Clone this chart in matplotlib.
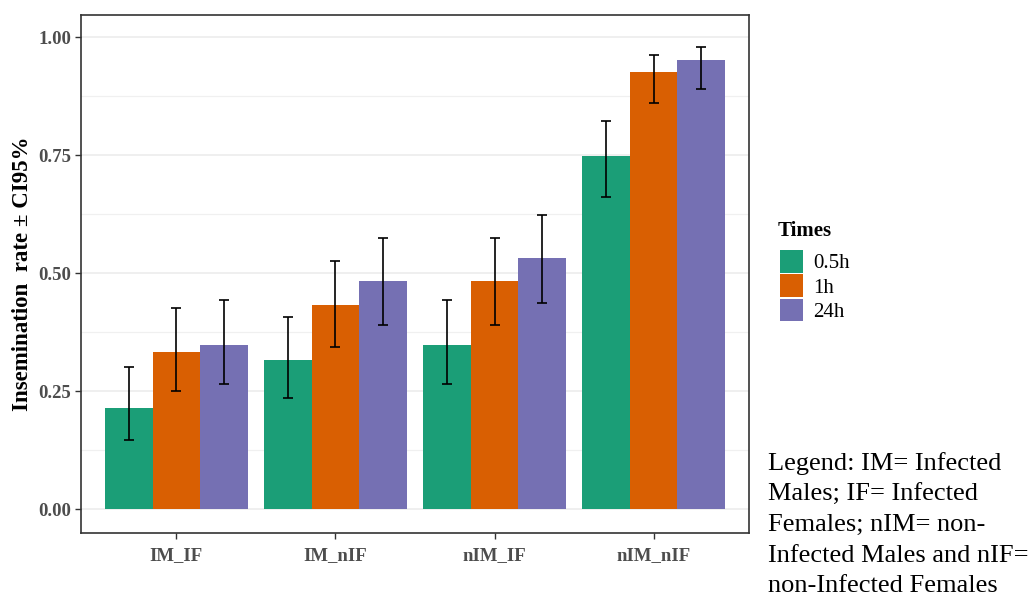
import numpy as np
import matplotlib
matplotlib.use('Agg')
from matplotlib import pyplot as plt
from matplotlib.patches import Patch

plt.rcParams['font.family'] = ['Liberation Serif', 'DejaVu Serif']

########
# DATA #
########

groups = ['IM_IF', 'IM_nIF', 'nIM_IF', 'nIM_nIF']
times = ['0.5h', '1h', '24h']

# insemination rate per group, one list per time
rate_05h = [0.214, 0.316, 0.349, 0.749]
rate_1h = [0.333, 0.432, 0.483, 0.927]
rate_24h = [0.349, 0.483, 0.532, 0.952]

# 95% CI bounds
lo_05h = [0.148, 0.236, 0.266, 0.661]
hi_05h = [0.302, 0.407, 0.443, 0.822]
lo_1h = [0.250, 0.344, 0.391, 0.861]
hi_1h = [0.426, 0.526, 0.575, 0.963]
lo_24h = [0.266, 0.391, 0.438, 0.891]
hi_24h = [0.443, 0.575, 0.623, 0.980]

colors = ['#1B9E77', '#D95F02', '#7570B3']

rates = [rate_05h, rate_1h, rate_24h]
lows = [lo_05h, lo_1h, lo_24h]
highs = [hi_05h, hi_1h, hi_24h]

########
# PLOT #
########

fig = plt.figure(figsize=(10.35, 6.01), dpi=100)
ax = fig.add_axes([81/1035, 1-533/601, (749-81)/1035, (533-15)/601])

x = np.arange(1, len(groups) + 1)
w = 0.3
for i in range(3):
    pos = x + (i - 1) * w
    r = np.array(rates[i])
    err = np.array([r - np.array(lows[i]), np.array(highs[i]) - r])
    ax.bar(pos, r, width=w, color=colors[i], zorder=2)
    ax.errorbar(pos, r, yerr=err, fmt='none', ecolor='black',
                elinewidth=1.2, capsize=3.8, capthick=1.2, zorder=3)

ax.set_xlim(0.4, 4.6)
ax.set_ylim(-0.05, 1.047)
ax.set_yticks([0, 0.25, 0.5, 0.75, 1.0])
ax.set_yticklabels(['0.00', '0.25', '0.50', '0.75', '1.00'])
ax.set_yticks([0.125, 0.375, 0.625, 0.875], minor=True)
ax.set_xticks(x)
ax.set_xticklabels(groups)
ax.grid(True, axis='y', which='major', color='#EBEBEB', linewidth=1.1, zorder=0)
ax.grid(True, axis='y', which='minor', color='#F0F0F0', linewidth=0.9, zorder=0)
ax.tick_params(axis='y', which='minor', length=0)
ax.tick_params(axis='both', which='major', length=4, width=1.0,
               color='#333333', labelcolor='#4D4D4D', labelsize=13.5)
ax.tick_params(axis='x', pad=6)
ax.tick_params(axis='y', pad=3)
for lab in ax.get_xticklabels() + ax.get_yticklabels():
    lab.set_fontweight('bold')
for s in ax.spines.values():
    s.set_color('#333333')
    s.set_linewidth(1.2)

ax.set_ylabel('Insemination  rate ± CI95%', fontsize=16.5, fontweight='bold',
              labelpad=4)

# legend
fig.text(778/1035, 1-231/601, 'Times', fontsize=15, fontweight='bold',
         va='center', ha='left')
handles = [Patch(facecolor=c, edgecolor='none') for c in colors]
leg = fig.legend(handles, times, loc='upper left',
                 bbox_to_anchor=(780/1035, 1-250/601), frameon=False,
                 fontsize=15, handlelength=1.1, handleheight=1.3,
                 labelspacing=0.05, handletextpad=0.5,
                 borderpad=0, borderaxespad=0)

fig.text(768/1035, 1-452/601,
         'Legend: IM= Infected\nMales; IF= Infected\nFemales; nIM= non-\n'
         'Infected Males and nIF=\nnon-Infected Females',
         fontsize=19, va='top', ha='left', linespacing=1.5)

plt.savefig('out.png', dpi=100)
plt.close()
